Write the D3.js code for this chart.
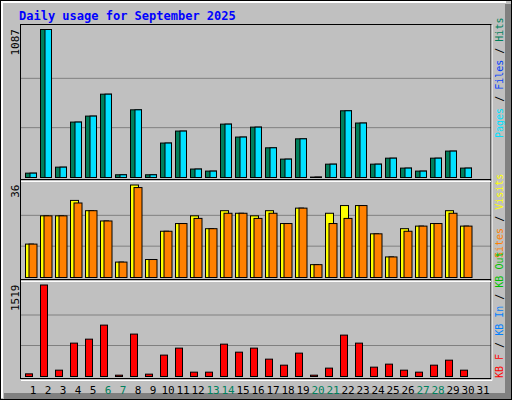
<!DOCTYPE html>
<html><head><meta charset="utf-8">
<script src="https://cdn.jsdelivr.net/npm/d3@7"></script>
<style>body{margin:0;background:#fff}svg text{font-family:"DejaVu Sans Mono",monospace}</style>
</head><body><svg id="c" width="512" height="400"></svg>
<script>
const days = d3.range(1, 32);
const weekend = [6, 7, 13, 14, 20, 21, 27, 28];
const hits = [32,1087,76,407,451,612,20,497,20,253,341,62,47,392,297,370,218,135,284,3,98,490,400,98,142,69,47,142,194,69,0];
const pages = hits;
const visits = [13,24,24,30,26,22,6,36,7,18,21,24,19,26,25,24,26,21,27,5,25,28,28,17,8,19,20,21,26,20,0];
const sites  = [13,24,24,29,26,22,6,35,7,18,21,23,19,25,25,23,25,21,27,5,21,23,28,17,8,18,20,21,25,20,0];
const kbytes = [44,1519,105,554,620,853,22,704,39,355,471,72,72,537,404,471,288,188,388,22,139,687,554,155,205,105,72,188,271,105,0];
const maxLabels = ['1087', '36', '1519'];

const svg = d3.select('#c');
svg.append('rect').attr('width', 512).attr('height', 400).attr('fill', '#c0c0c0');
svg.append('rect').attr('x', 0.5).attr('y', 0.5).attr('width', 511).attr('height', 399).attr('fill', 'none').attr('stroke', '#000');
svg.append('path').attr('d', 'M2,398V2H506').attr('fill', 'none').attr('stroke', '#fff').attr('stroke-width', 2);
svg.append('path').attr('d', 'M508,4V396H4').attr('fill', 'none').attr('stroke', '#808080').attr('stroke-width', 6);

svg.append('text').attr('x', 19).attr('y', 20).attr('fill', '#0000ff').attr('font-weight', 'bold')
  .attr('font-size', 12).text('Daily usage for September 2025');

const x = d3.scaleLinear().domain([1, 32]).range([25, 490]);
const panels = [
  {top: 25, bottom: 177, bar: 29, max: 1087},
  {top: 180, bottom: 277, bar: 184.5, max: 36},
  {top: 280, bottom: 376, bar: 284.5, max: 1519}
];
panels.forEach((p, i) => {
  p.y = d3.scaleLinear().domain([0, p.max]).range([p.bottom, p.bar]);
  [1, 2].forEach(k => {
    const gy = p.bottom - (p.bottom - p.bar) * k / 3;
    svg.append('line').attr('x1', 21).attr('x2', 491).attr('y1', gy).attr('y2', gy).attr('stroke', '#808080');
  });
  svg.append('rect').attr('x', 20.5).attr('y', p.top - 0.5).attr('width', 470.5).attr('height', (i === 2 ? 379 : panels[i + 1].top) - p.top)
    .attr('fill', 'none').attr('stroke', '#000');
  svg.append('text').attr('transform', `translate(19,${p.bar}) rotate(-90)`).attr('text-anchor', 'end')
    .attr('font-size', 11).attr('font-family', 'DejaVu Sans').text(maxLabels[i]);
});
svg.append('path').attr('d', 'M21,181.5H491M21,281.5H491M21,380.5H492V25').attr('fill', 'none').attr('stroke', '#fff');

function bars(data, p, off, w, color) {
  svg.append('g').selectAll('rect').data(data).join('rect')
    .attr('x', (d, i) => x(i + 1) + off + 0.5)
    .attr('y', d => p.y(d) + 0.5)
    .attr('width', w)
    .attr('height', d => Math.max(0, p.bottom - p.y(d)))
    .attr('fill', color).attr('stroke', '#000')
    .attr('display', d => d > 0 ? null : 'none');
}
bars(hits, panels[0], 0, 11, '#00805c');
bars(pages, panels[0], 4.5, 6.5, '#00e0ff');
bars(visits, panels[1], 0, 8, '#ffff00');
bars(sites, panels[1], 3.5, 8, '#ff8000');
bars(kbytes, panels[2], 0, 7, '#ff0000');

svg.append('g').selectAll('text').data(days).join('text')
  .attr('x', d => x(d) + 8).attr('y', 394).attr('text-anchor', 'middle')
  .attr('font-size', 11).attr('font-family', 'DejaVu Sans')
  .attr('fill', d => weekend.includes(d) ? '#00805c' : '#000').text(d => d);

function legend(y, parts) {
  const t = svg.append('text').attr('transform', `translate(503,${y}) rotate(-90)`).attr('font-size', 10);
  parts.forEach(([s, c]) => t.append('tspan').attr('fill', c).text(s));
}
legend(138, [['Pages', '#00e0ff'], [' / ', '#000'], ['Files', '#0040ff'], [' / ', '#000'], ['Hits', '#00805c']]);
legend(258, [['Sites', '#ff8000'], [' / ', '#000'], ['Visits', '#ffff00']]);
legend(378, [['KB F', '#ff0000'], [' / ', '#000'], ['KB In', '#0080ff'], [' / ', '#000'], ['KB Out', '#00c000']]);
</script></body></html>
